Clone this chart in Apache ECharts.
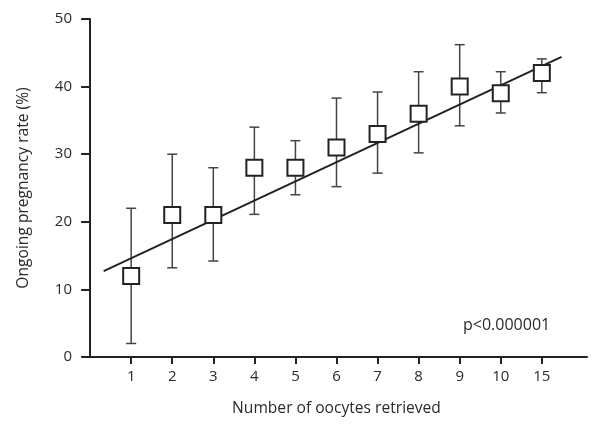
<!DOCTYPE html>
<html><head><meta charset="utf-8">
<script src="https://cdn.jsdelivr.net/npm/echarts@6/dist/echarts.min.js"></script>
<style>html,body{margin:0;padding:0;background:#fff}#c{width:600px;height:439px}</style>
</head><body><div id="c"></div>
<script>
const categories = ['1','2','3','4','5','6','7','8','9','10','15'];
const rateMean  = [12, 21, 21, 28, 28, 31, 33, 36, 40, 39, 42];
const rateUpper = [22, 30, 28, 34, 32, 38.3, 39.2, 42.2, 46.2, 42.2, 44.1];
const rateLower = [2, 13.2, 14.2, 21.1, 24, 25.2, 27.2, 30.2, 34.2, 36.1, 39.1];
const trendX = [0.33, 11.48];
const trendY = [12.7, 44.4];
const yTicks = [0, 10, 20, 30, 40, 50];

const positions = categories.map((c, i) => i + 1);
const font = '"Open Sans", "Noto Sans", sans-serif';
const ink = '#222';
const txt = '#2a2a2a';

const chart = echarts.init(document.getElementById('c'), null, {renderer: 'canvas'});
chart.setOption({
  animation: false,
  backgroundColor: '#fff',
  grid: {left: 86, right: 13, top: 19, bottom: 82, containLabel: false},
  xAxis: {
    type: 'value', min: -0.1, max: 12.1,
    name: 'Number of oocytes retrieved', nameLocation: 'middle', nameGap: 44,
    nameTextStyle: {fontFamily: font, fontSize: 15.6, color: txt},
    axisLine: {show: true, lineStyle: {color: ink, width: 2}},
    axisTick: {show: true, customValues: positions, length: 7, lineStyle: {color: ink, width: 2}},
    axisLabel: {customValues: positions, margin: 12, fontFamily: font, fontSize: 15, color: txt,
      formatter: v => categories[Math.round(v) - 1] || ''},
    splitLine: {show: false}
  },
  yAxis: {
    type: 'value', min: 0, max: 50, interval: 10,
    name: 'Ongoing pregnancy rate (%)', nameLocation: 'middle', nameGap: 54,
    nameTextStyle: {fontFamily: font, fontSize: 15.6, color: txt},
    axisLine: {show: true, lineStyle: {color: ink, width: 2}},
    axisTick: {show: true, length: 9, lineStyle: {color: ink, width: 2}},
    axisLabel: {margin: 14, fontFamily: font, fontSize: 15, color: txt,
      formatter: v => yTicks.includes(v) ? String(v) : ''},
    splitLine: {show: false}
  },
  series: [
    {
      type: 'line', data: trendX.map((x, i) => [x, trendY[i]]),
      symbol: 'none', lineStyle: {color: ink, width: 2}, z: 3
    },
    {
      type: 'custom', z: 2,
      data: positions.map((x, i) => [x, rateLower[i], rateUpper[i]]),
      renderItem: (params, api) => {
        const lo = api.coord([api.value(0), api.value(1)]);
        const hi = api.coord([api.value(0), api.value(2)]);
        const hw = 5;
        const st = {stroke: '#444', lineWidth: 1.5};
        return {type: 'group', children: [
          {type: 'line', shape: {x1: lo[0], y1: lo[1], x2: hi[0], y2: hi[1]}, style: st},
          {type: 'line', shape: {x1: lo[0]-hw, y1: lo[1], x2: lo[0]+hw, y2: lo[1]}, style: st},
          {type: 'line', shape: {x1: hi[0]-hw, y1: hi[1], x2: hi[0]+hw, y2: hi[1]}, style: st}
        ]};
      }
    },
    {
      type: 'scatter', z: 4,
      data: positions.map((x, i) => [x, rateMean[i]]),
      symbol: 'rect', symbolSize: 16,
      itemStyle: {color: '#fff', borderColor: ink, borderWidth: 2, opacity: 1}
    }
  ],
  graphic: [{
    type: 'text', x: 463, y: 325,
    style: {text: 'p<0.000001', fontFamily: font, fontSize: 16, fill: txt, verticalAlign: 'middle', textVerticalAlign: 'middle'}
  }]
});
</script></body></html>
